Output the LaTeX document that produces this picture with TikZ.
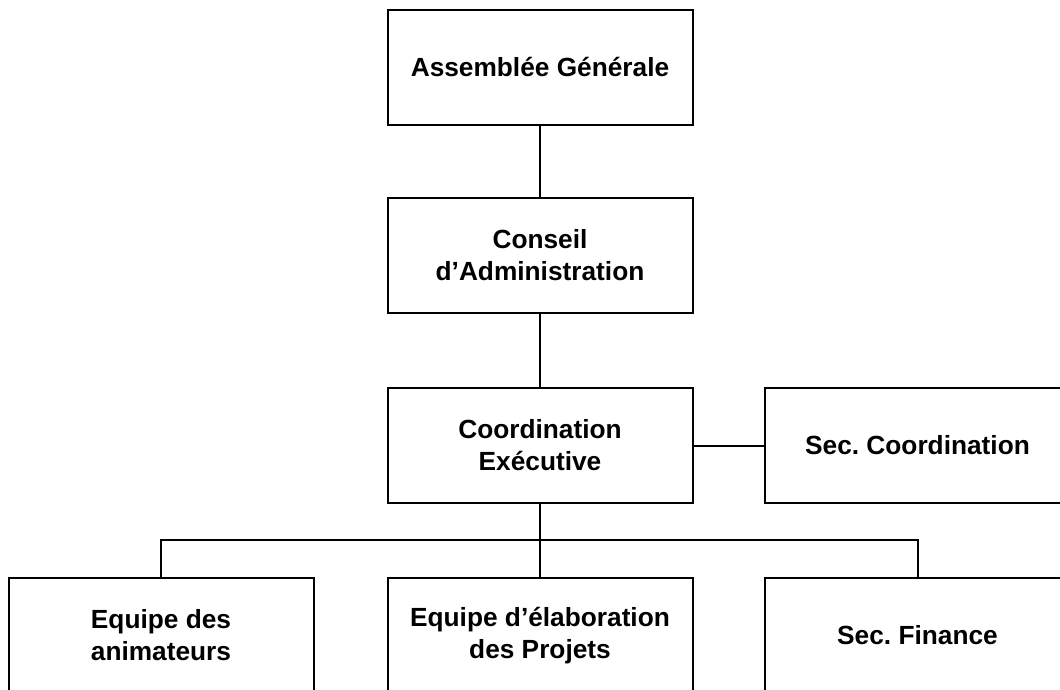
\documentclass[tikz,border=0pt]{standalone}
\usepackage{fontspec}
\setmainfont{Liberation Sans}
\frenchspacing

\begin{document}
\begin{tikzpicture}[x=0.75pt, y=-0.75pt, line width=1.5pt]

    %styles
    \tikzstyle{unit}=[rectangle, draw=black, fill=white, line width=1.5pt, minimum width=228.75pt, minimum height=86.25pt, align=center, font=\fontsize{19.7}{24}\selectfont\bfseries]

    \clip (0,0) rectangle (1060,689);
    \fill[white] (0,0) rectangle (1060,689);

    % nodes
    \node[unit] (ag) at (540, 67) {Assemblée Générale};
    \node[unit] (ca) at (540, 255.5) {Conseil\\d’Administration};
    \node[unit] (ce) at (540, 445.5) {Coordination\\Exécutive};
    \node[unit] (sc) at (917.5, 445.5) {Sec. Coordination};
    \node[unit] (ea) at (161, 635.5) {Equipe des\\animateurs};
    \node[unit] (ep) at (540, 635.5) {Equipe d’élaboration\\des Projets};
    \node[unit] (sf) at (917.5, 635.5) {Sec. Finance};
    \coordinate (bar) at (540, 540);

    % lines
    \draw (ag) -- (ca);
    \draw (ca) -- (ce);
    \draw (ce) -- (sc);
    \draw (ce) -- (bar);
    \draw (bar) -- (ep);
    \draw (ea.north) |- (bar) -| (sf.north);
\end{tikzpicture}
\end{document}
